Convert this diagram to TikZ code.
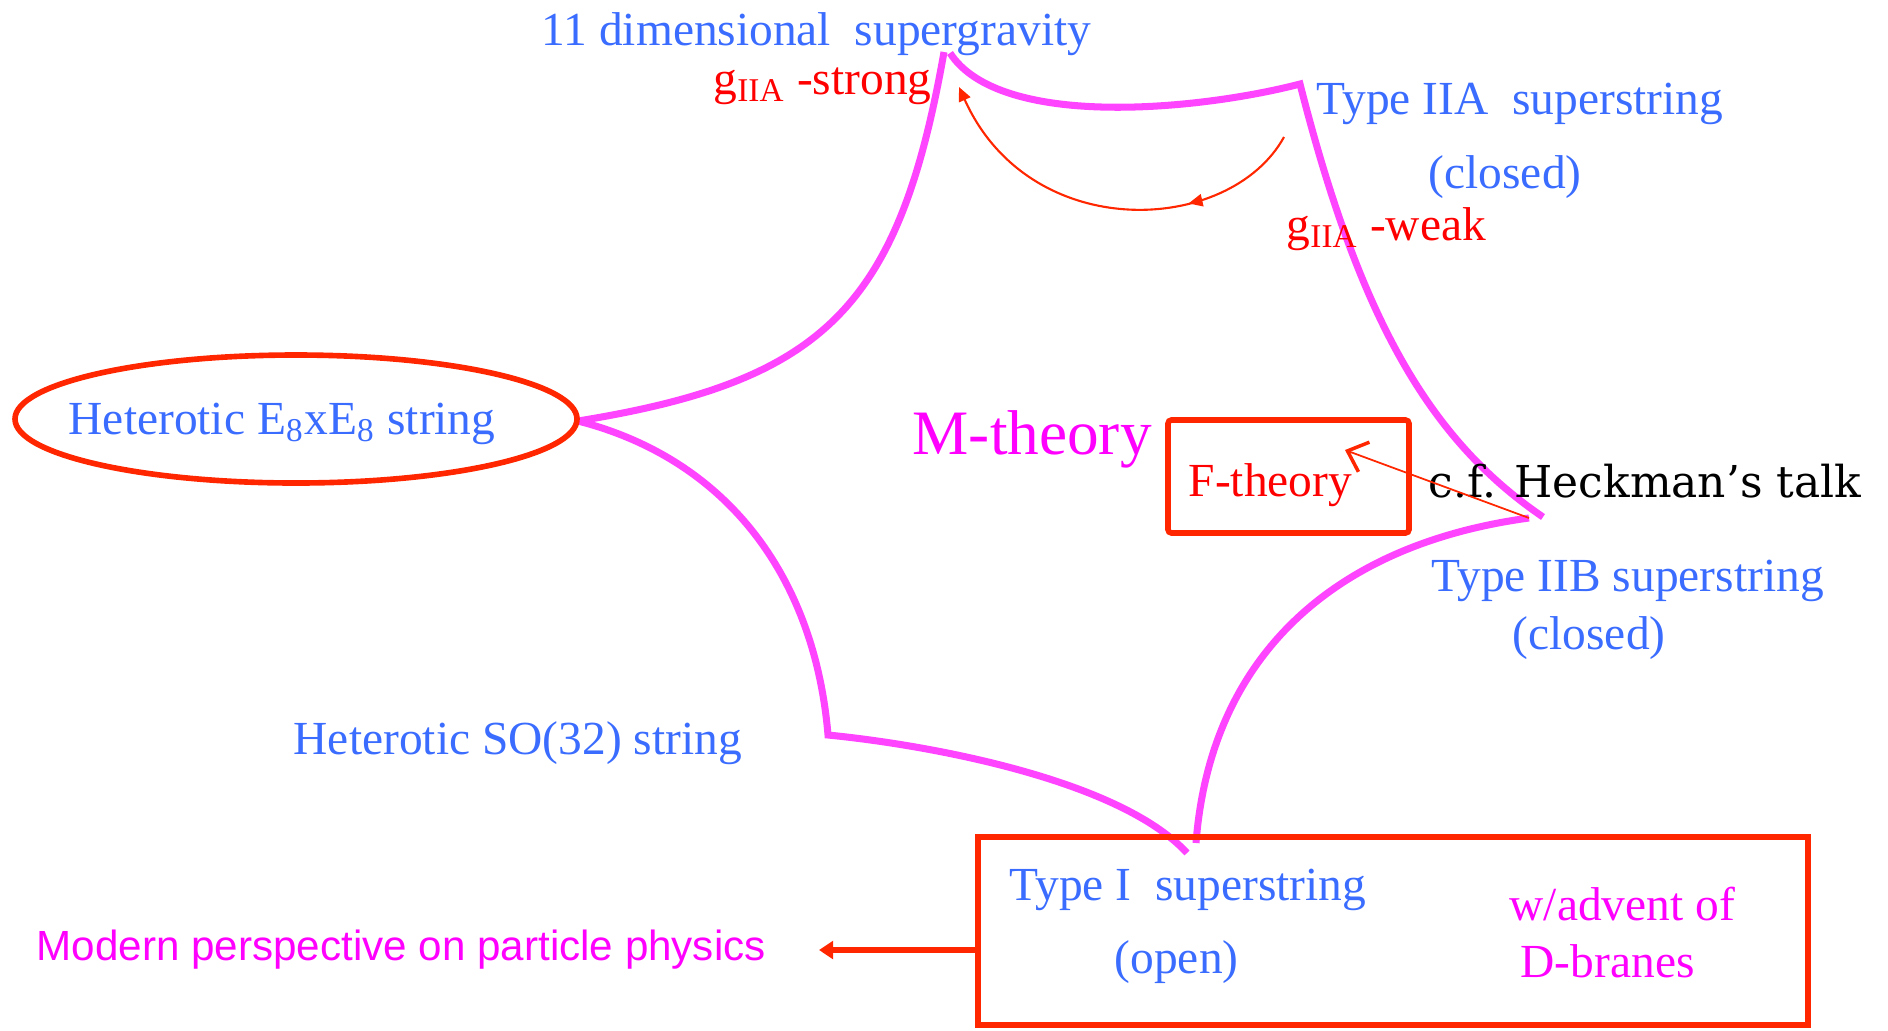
\documentclass[tikz,border=0pt]{standalone}
\usepackage{fontspec}
\setmainfont{Liberation Serif}
\newfontfamily\talkfont{DejaVu Serif}
\newfontfamily\notefont{Liberation Sans}
\usetikzlibrary{arrows.meta,decorations.markings,shapes.geometric}

\definecolor{stringblue}{RGB}{58,108,255}
\definecolor{webmagenta}{RGB}{255,68,255}
\definecolor{boxred}{RGB}{255,38,0}
\definecolor{notemagenta}{RGB}{255,0,255}

\tikzset{
  theory/.style={text=stringblue, font=\fontsize{13.5}{16}\selectfont, anchor=base west, inner sep=0pt},
  coupling/.style={theory, text=red},
  advent/.style={theory, text=notemagenta},
  moduli/.style={draw=webmagenta, line width=2pt},
  redbox/.style={draw=boxred, line width=1.6pt},
  duality/.style={draw=boxred, line width=0.6pt, -{Triangle[length=4pt,width=3.5pt]},
    postaction={decorate},
    decoration={markings, mark=at position 0.3 with {\arrow{Triangle[length=4pt,width=3.5pt]}}}},
}

\begin{document}
\begin{tikzpicture}
  \useasboundingbox (0,0) rectangle (18.88,-10.30);
  % corners
  \coordinate (sugraL) at (9.44,-0.52);
  \coordinate (sugraR) at (9.50,-0.53);
  \coordinate (iia) at (13.00,-0.84);
  \coordinate (iibU) at (15.43,-5.17);
  \coordinate (iibL) at (15.29,-5.18);
  \coordinate (typeiR) at (11.96,-8.43);
  \coordinate (typeiL) at (11.87,-8.53);
  \coordinate (so) at (8.28,-7.35);
  \coordinate (eight) at (5.78,-4.21);

  % the star shaped moduli space
  \draw[moduli] (eight) .. controls (8.25,-3.81) and (8.99,-3.07) .. (sugraL);
  \draw[moduli] (sugraR) .. controls (10.00,-1.30) and (12.00,-1.10) .. (iia)
    .. controls (13.60,-3.20) and (14.30,-4.40) .. (iibU);
  \draw[moduli] (iibL) .. controls (13.30,-5.45) and (12.10,-6.60) .. (typeiR);
  \draw[moduli] (typeiL) .. controls (11.20,-7.80) and (9.30,-7.45) .. (so)
    .. controls (8.15,-5.80) and (7.30,-4.60) .. (eight);

  % limits
  \node[theory] (sugra) at (5.41,-0.45) {11 dimensional\ \ supergravity};
  \node[coupling] (strong) at (7.13,-0.94) {g\textsubscript{IIA} -strong};
  \node[theory] (iianame) at (13.16,-1.14) {Type IIA\ \ superstring};
  \node[theory] (iiaclosed) at (14.28,-1.88) {(closed)};
  \node[coupling] (weak) at (12.86,-2.40) {g\textsubscript{IIA} -weak};
  \coordinate (weakend) at (12.84,-1.37);
  \coordinate (strongend) at (9.59,-0.87);
  \draw[duality] (weakend) .. controls (12.30,-2.35) and (10.30,-2.45) .. (strongend);

  \node[draw=boxred, line width=1.6pt, ellipse, minimum width=5.62cm, minimum height=1.28cm] (e8ring) at (2.96,-4.19) {};
  \node[theory] (hetE) at (0.68,-4.34) {Heterotic E\textsubscript{8}xE\textsubscript{8} string};

  \node[text=notemagenta, font=\fontsize{18}{22}\selectfont, anchor=base west, inner sep=0pt] (m) at (9.12,-4.54) {M-theory};
  \node[redbox, rounded corners=1pt, minimum width=2.41cm, minimum height=1.13cm] (fbox) at (12.885,-4.765) {};
  \node[coupling] (f) at (11.88,-4.96) {F-theory};
  \node[anchor=base west, inner sep=0pt, font=\talkfont\fontsize{12.5}{15}\selectfont] (talk) at (14.28,-4.97) {c.f. Heckman’s talk};
  \coordinate (ftip) at (13.45,-4.50);
  \draw[boxred, line width=0.5pt, -{Straight Barb[length=5pt,width=9pt,line width=1pt]}] (iibL) -- (ftip);

  \node[theory] (iibname) at (14.31,-5.91) {Type IIB superstring};
  \node[theory] (iibclosed) at (15.12,-6.49) {(closed)};
  \node[theory] (hetSO) at (2.93,-7.54) {Heterotic SO(32) string};

  \node[redbox, line width=1.9pt, minimum width=8.30cm, minimum height=1.88cm] (typeibox) at (13.93,-9.31) {};
  \node[theory] (typei) at (10.09,-9.00) {Type I\ \ superstring};
  \node[theory] (open) at (11.14,-9.73) {(open)};
  \node[advent] (adv) at (15.09,-9.20) {w/advent of};
  \node[advent] (dbranes) at (15.20,-9.77) {D-branes};

  \node[anchor=base west, inner sep=0pt, text=notemagenta, font=\notefont\fontsize{12}{14}\selectfont] (modern) at (0.36,-9.60) {Modern perspective on particle physics};
  \coordinate (outtip) at (8.19,-9.50);
  \draw[boxred, line width=1.7pt, -{Triangle[length=4pt,width=5pt]}] (typeibox.west |- outtip) -- (outtip);
\end{tikzpicture}
\end{document}
